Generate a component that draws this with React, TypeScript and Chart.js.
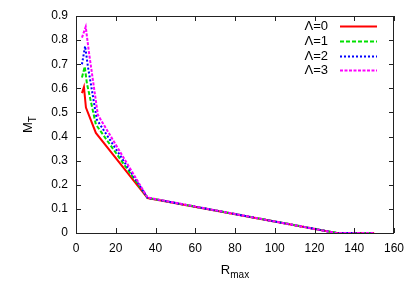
import React, { useEffect, useRef } from "react";
import { Chart, registerables } from "chart.js";

Chart.register(...registerables);

const seriesLabels = ["Λ=0", "Λ=1", "Λ=2", "Λ=3"];
const seriesColors = ["#ff0000", "#00e000", "#0000ff", "#ff00ff"];
const seriesDash: number[][] = [[], [4, 2], [2, 2], [3, 1.5]];

const rmax0 = [3, 4, 5, 10, 36, 131, 150];
const mt0 = [0.58, 0.605, 0.52, 0.415, 0.145, 0, 0];
const rmax1 = [3, 4.4, 5.5, 10, 36, 131.5, 150];
const mt1 = [0.645, 0.69, 0.62, 0.45, 0.146, 0, 0];
const rmax2 = [3, 4.6, 6, 10.5, 36, 131, 150];
const mt2 = [0.70, 0.775, 0.69, 0.47, 0.146, 0, 0];
const rmax3 = [3, 4.9, 6.5, 11, 36, 131, 150];
const mt3 = [0.81, 0.855, 0.75, 0.49, 0.147, 0, 0];

const xTickLabels = ["0", "20", "40", "60", "80", "100", "120", "140", "160"];
const yTickLabels = ["0", "0.1", "0.2", "0.3", "0.4", "0.5", "0.6", "0.7", "0.8", "0.9"];

const FONT = "Liberation Sans, Arial, sans-serif";

const framePlugin = {
  id: "frameTicks",
  afterDraw(chart: any) {
    const { ctx, chartArea: a, scales } = chart;
    const xs = scales.x;
    const ys = scales.y;
    ctx.save();
    ctx.strokeStyle = "#222";
    ctx.lineWidth = 1;
    ctx.strokeRect(Math.round(a.left) + 0.5, Math.round(a.top) + 0.5, Math.round(a.right - a.left) - 1, Math.round(a.bottom - a.top));
    ctx.beginPath();
    const tl = 5;
    xTickLabels.forEach((t) => {
      const px = Math.round(xs.getPixelForValue(Number(t))) + 0.5;
      ctx.moveTo(px, a.bottom);
      ctx.lineTo(px, a.bottom - tl);
      ctx.moveTo(px, a.top);
      ctx.lineTo(px, a.top + tl);
    });
    yTickLabels.forEach((t) => {
      const py = Math.round(ys.getPixelForValue(Number(t))) + 0.5;
      ctx.moveTo(a.left, py);
      ctx.lineTo(a.left + tl, py);
      ctx.moveTo(a.right, py);
      ctx.lineTo(a.right - tl, py);
    });
    ctx.stroke();

    // axis titles
    ctx.fillStyle = "#000";
    ctx.textBaseline = "alphabetic";
    // x title R_max
    ctx.font = `13px ${FONT}`;
    const rW = ctx.measureText("R").width;
    ctx.font = `10px ${FONT}`;
    const mW = ctx.measureText("max").width;
    const cx = (a.left + a.right) / 2;
    const sx = cx - (rW + mW) / 2;
    ctx.font = `13px ${FONT}`;
    ctx.textAlign = "left";
    ctx.fillText("R", sx, 274);
    ctx.font = `10px ${FONT}`;
    ctx.fillText("max", sx + rW, 278);
    // y title M_T
    ctx.save();
    ctx.translate(32, (a.top + a.bottom) / 2);
    ctx.rotate(-Math.PI / 2);
    ctx.font = `13px ${FONT}`;
    const MW = ctx.measureText("M").width;
    ctx.font = `10px ${FONT}`;
    const TW = ctx.measureText("T").width;
    const s2 = -(MW + TW) / 2;
    ctx.font = `13px ${FONT}`;
    ctx.fillText("M", s2, 0);
    ctx.font = `10px ${FONT}`;
    ctx.fillText("T", s2 + MW, 4);
    ctx.restore();

    // legend
    const rows = [26, 41, 56, 70];
    seriesLabels.forEach((lab, i) => {
      ctx.font = `13px ${FONT}`;
      ctx.textAlign = "right";
      ctx.textBaseline = "middle";
      ctx.fillStyle = "#000";
      ctx.fillText(lab, 328, rows[i]);
      ctx.beginPath();
      ctx.strokeStyle = seriesColors[i];
      ctx.lineWidth = 2;
      ctx.setLineDash(seriesDash[i]);
      ctx.moveTo(340, rows[i] + 0.5);
      ctx.lineTo(377, rows[i] + 0.5);
      ctx.stroke();
      ctx.setLineDash([]);
    });
    ctx.restore();
  },
};

export default function App() {
  const ref = useRef<HTMLCanvasElement>(null);
  useEffect(() => {
    document.body.style.margin = "0";
    const xsArr = [rmax0, rmax1, rmax2, rmax3];
    const ysArr = [mt0, mt1, mt2, mt3];
    const chart = new Chart(ref.current!, {
      type: "line",
      data: {
        datasets: seriesLabels.map((lab, i) => ({
          label: lab,
          data: xsArr[i].map((x, j) => ({ x, y: ysArr[i][j] })),
          borderColor: seriesColors[i],
          borderWidth: 2,
          borderDash: seriesDash[i],
          pointRadius: 0,
          fill: false,
          tension: 0,
          order: 3 - i,
        })),
      },
      options: {
        animation: false,
        responsive: false,
        events: [],
        layout: { padding: { top: 16, right: 21, left: 0, bottom: 0 } },
        plugins: { legend: { display: false }, tooltip: { enabled: false } },
        scales: {
          x: {
            type: "linear",
            min: 0,
            max: 160,
            afterFit: (s: any) => { s.height = 58; },
            afterBuildTicks: (s: any) => { s.ticks = xTickLabels.map((t) => ({ value: Number(t) })); },
            grid: { display: false, drawTicks: false },
            border: { display: false },
            ticks: {
              padding: 8,
              color: "#000",
              font: { family: FONT, size: 12 },
              maxRotation: 0,
              callback: (v: any) => xTickLabels[xTickLabels.indexOf(String(v))] ?? "",
            },
          },
          y: {
            type: "linear",
            min: 0,
            max: 0.9,
            afterFit: (s: any) => { s.width = 76; },
            afterBuildTicks: (s: any) => { s.ticks = yTickLabels.map((t) => ({ value: Number(t) })); },
            grid: { display: false, drawTicks: false },
            border: { display: false },
            ticks: {
              padding: 8,
              color: "#000",
              font: { family: FONT, size: 12 },
              callback: (v: any) => {
                const idx = yTickLabels.findIndex((t) => Math.abs(Number(t) - v) < 1e-9);
                return idx >= 0 ? yTickLabels[idx] : "";
              },
            },
          },
        },
      },
      plugins: [framePlugin],
    });
    return () => chart.destroy();
  }, []);
  return <canvas ref={ref} width={415} height={291} style={{ display: "block" }} />;
}
